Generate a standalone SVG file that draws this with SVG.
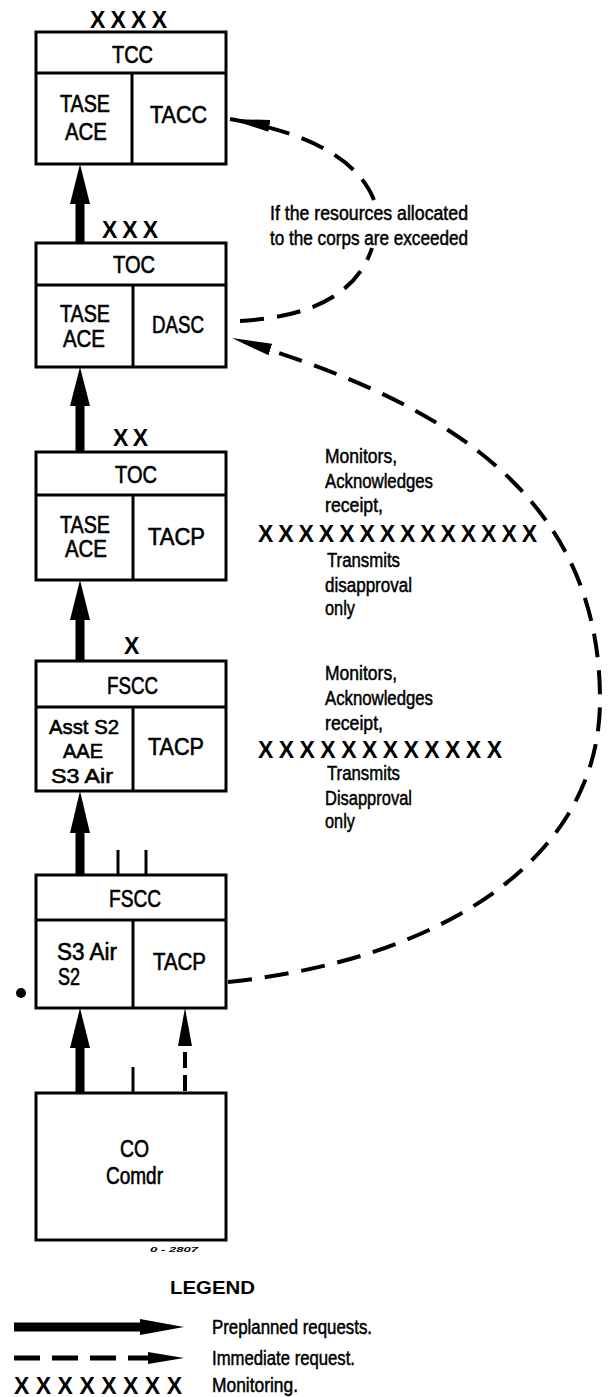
<svg xmlns="http://www.w3.org/2000/svg" width="614" height="1397" viewBox="0 0 614 1397">
<style>
.box{fill:#fff;stroke:#000;stroke-width:3}
.ln{stroke:#000;stroke-width:3;fill:none}
.t{font-family:"Liberation Sans",Arial,sans-serif;font-size:23px;fill:#000;stroke:#000;stroke-width:0.6}
.tc{font-family:"Liberation Sans",Arial,sans-serif;font-size:20px;fill:#000;stroke:#000;stroke-width:0.6}
.s{font-family:"Liberation Sans",Arial,sans-serif;font-size:20px;fill:#000;stroke:#000;stroke-width:0.5}
.x{font-family:"Liberation Sans",Arial,sans-serif;font-size:23px;font-weight:bold;fill:#000}
.solid{stroke:#000;stroke-width:9;fill:none}
.dash{stroke:#000;stroke-width:4;fill:none;stroke-dasharray:24 13}
.head{fill:#000}
</style>
<defs>
<marker id="dh" markerUnits="userSpaceOnUse" markerWidth="44" markerHeight="16" viewBox="0 -8 44 16" refX="40" refY="0" orient="auto">
<path d="M0,-6 L40,0 L0,6 z" fill="#000"/>
</marker>
</defs>
<rect width="614" height="1397" fill="#fff"/>

<g id="connectors">
<line class="solid" x1="80" y1="243" x2="80" y2="198"/>
<path class="head" d="M80,164 L70,204 L90,204 z"/>
<line class="solid" x1="80" y1="452" x2="80" y2="400"/>
<path class="head" d="M80,367 L70,406 L90,406 z"/>
<line class="solid" x1="80" y1="661" x2="80" y2="615"/>
<path class="head" d="M80,580 L70,620 L90,620 z"/>
<line class="solid" x1="80" y1="875" x2="80" y2="828"/>
<path class="head" d="M80,791 L70,833 L90,833 z"/>
<line class="solid" x1="80" y1="1093" x2="80" y2="1043"/>
<path class="head" d="M80,1008 L70,1048 L90,1048 z"/>
<line stroke="#000" stroke-width="4" stroke-dasharray="16 7" x1="185" y1="1091" x2="185" y2="1045"/>
<path class="head" d="M185,1008 L178,1046 L192,1046 z"/>
<line class="ln" x1="118" y1="850" x2="118" y2="875" stroke-width="3.5"/>
<line class="ln" x1="146" y1="850" x2="146" y2="875" stroke-width="3.5"/>
<line class="ln" x1="133" y1="1067" x2="133" y2="1093" stroke-width="3.5"/>
<path class="dash" d="M374,200 Q350,140 230,119" marker-end="url(#dh)"/>
<path class="dash" d="M240,321 Q350,315 372,248"/>
<path class="dash" d="M228,982 C440,960 600,860 600,700 C600,480 420,395 232,338" marker-end="url(#dh)"/>
</g>

<g id="node-tcc">
<text class="x" x="90" y="28" textLength="77" lengthAdjust="spacing">XXXX</text>
<rect class="box" x="36" y="32" width="190" height="132"/>
<line class="ln" x1="36" y1="73" x2="226" y2="73"/>
<line class="ln" x1="132" y1="73" x2="132" y2="164"/>
<text class="t" x="112" y="63" textLength="41" lengthAdjust="spacingAndGlyphs">TCC</text>
<text class="t" x="60" y="112" textLength="50" lengthAdjust="spacingAndGlyphs">TASE</text>
<text class="t" x="65" y="140" textLength="42" lengthAdjust="spacingAndGlyphs">ACE</text>
<text class="t" x="150" y="123" textLength="57" lengthAdjust="spacingAndGlyphs">TACC</text>
</g>

<g id="node-toc-corps">
<text class="x" x="102" y="238" textLength="56" lengthAdjust="spacing">XXX</text>
<rect class="box" x="36" y="243" width="190" height="124"/>
<line class="ln" x1="36" y1="285" x2="226" y2="285"/>
<line class="ln" x1="133" y1="285" x2="133" y2="367"/>
<text class="t" x="113" y="273" textLength="42" lengthAdjust="spacingAndGlyphs">TOC</text>
<text class="t" x="60" y="322" textLength="50" lengthAdjust="spacingAndGlyphs">TASE</text>
<text class="t" x="63" y="347" textLength="42" lengthAdjust="spacingAndGlyphs">ACE</text>
<text class="t" x="152" y="333" textLength="52" lengthAdjust="spacingAndGlyphs">DASC</text>
</g>

<g id="node-toc-div">
<text class="x" x="113" y="446" textLength="35" lengthAdjust="spacing">XX</text>
<rect class="box" x="36" y="452" width="190" height="128"/>
<line class="ln" x1="36" y1="495" x2="226" y2="495"/>
<line class="ln" x1="133" y1="495" x2="133" y2="580"/>
<text class="t" x="115" y="483" textLength="42" lengthAdjust="spacingAndGlyphs">TOC</text>
<text class="t" x="60" y="533" textLength="50" lengthAdjust="spacingAndGlyphs">TASE</text>
<text class="t" x="65" y="557" textLength="42" lengthAdjust="spacingAndGlyphs">ACE</text>
<text class="t" x="148" y="545" textLength="57" lengthAdjust="spacingAndGlyphs">TACP</text>
</g>

<g id="node-fscc-bde">
<text class="x" x="124" y="654">X</text>
<rect class="box" x="36" y="661" width="190" height="130"/>
<line class="ln" x1="36" y1="707" x2="226" y2="707"/>
<line class="ln" x1="133" y1="707" x2="133" y2="791"/>
<text class="t" x="107" y="694" textLength="51" lengthAdjust="spacingAndGlyphs">FSCC</text>
<text class="tc" x="49" y="734" textLength="70" lengthAdjust="spacingAndGlyphs">Asst S2</text>
<text class="tc" x="63" y="758" textLength="40" lengthAdjust="spacingAndGlyphs">AAE</text>
<text class="tc" x="51" y="783" textLength="62" lengthAdjust="spacingAndGlyphs">S3 Air</text>
<text class="t" x="148" y="755" textLength="56" lengthAdjust="spacingAndGlyphs">TACP</text>
</g>

<g id="node-fscc-bn">
<rect class="box" x="36" y="875" width="190" height="133"/>
<line class="ln" x1="36" y1="920" x2="226" y2="920"/>
<line class="ln" x1="133" y1="920" x2="133" y2="1008"/>
<text class="t" x="109" y="907" textLength="52" lengthAdjust="spacingAndGlyphs">FSCC</text>
<text class="t" x="57" y="960" textLength="60" lengthAdjust="spacingAndGlyphs">S3 Air</text>
<text class="t" x="58" y="985" textLength="22" lengthAdjust="spacingAndGlyphs">S2</text>
<text class="t" x="153" y="970" textLength="53" lengthAdjust="spacingAndGlyphs">TACP</text>
</g>

<g id="node-co">
<rect class="box" x="36" y="1093" width="190" height="147"/>
<text class="t" x="120" y="1157" textLength="29" lengthAdjust="spacingAndGlyphs">CO</text>
<text class="t" x="106" y="1184" textLength="57" lengthAdjust="spacingAndGlyphs">Comdr</text>
<text x="150" y="1252" font-family="Liberation Sans, Arial, sans-serif" font-size="8" font-weight="bold" font-style="italic" textLength="48" lengthAdjust="spacingAndGlyphs">0 - 2807</text>
</g>

<g id="notes">
<text class="s" x="270" y="220" textLength="198" lengthAdjust="spacingAndGlyphs">If the resources allocated</text>
<text class="s" x="270" y="245" textLength="198" lengthAdjust="spacingAndGlyphs">to the corps are exceeded</text>

<text class="s" x="325" y="463" textLength="72" lengthAdjust="spacingAndGlyphs">Monitors,</text>
<text class="s" x="325" y="488" textLength="108" lengthAdjust="spacingAndGlyphs">Acknowledges</text>
<text class="s" x="325" y="512" textLength="58" lengthAdjust="spacingAndGlyphs">receipt,</text>
<text class="x" x="258" y="542" textLength="279" lengthAdjust="spacing">XXXXXXXXXXXXXX</text>
<text class="s" x="327" y="567" textLength="73" lengthAdjust="spacingAndGlyphs">Transmits</text>
<text class="s" x="325" y="592" textLength="87" lengthAdjust="spacingAndGlyphs">disapproval</text>
<text class="s" x="325" y="615" textLength="30" lengthAdjust="spacingAndGlyphs">only</text>

<text class="s" x="325" y="680" textLength="72" lengthAdjust="spacingAndGlyphs">Monitors,</text>
<text class="s" x="325" y="705" textLength="108" lengthAdjust="spacingAndGlyphs">Acknowledges</text>
<text class="s" x="325" y="730" textLength="58" lengthAdjust="spacingAndGlyphs">receipt,</text>
<text class="x" x="258" y="758" textLength="244" lengthAdjust="spacing">XXXXXXXXXXXX</text>
<text class="s" x="327" y="780" textLength="73" lengthAdjust="spacingAndGlyphs">Transmits</text>
<text class="s" x="325" y="805" textLength="87" lengthAdjust="spacingAndGlyphs">Disapproval</text>
<text class="s" x="325" y="828" textLength="30" lengthAdjust="spacingAndGlyphs">only</text>
</g>

<circle cx="21" cy="993" r="5" fill="#000"/>

<g id="legend">
<text x="170" y="1294" font-family="Liberation Sans, Arial, sans-serif" font-size="18" font-weight="bold" textLength="85" lengthAdjust="spacingAndGlyphs">LEGEND</text>
<line class="solid" x1="14" y1="1327" x2="150" y2="1327"/>
<path class="head" d="M184,1327 L140,1319 L140,1335 z"/>
<text class="s" x="212" y="1334" textLength="160" lengthAdjust="spacingAndGlyphs">Preplanned requests.</text>
<line stroke="#000" stroke-width="5" stroke-dasharray="26 12" x1="14" y1="1358" x2="152" y2="1358"/>
<path class="head" d="M184,1358 L148,1352 L148,1364 z"/>
<text class="s" x="212" y="1365" textLength="143" lengthAdjust="spacingAndGlyphs">Immediate request.</text>
<text class="x" x="14" y="1394" textLength="168" lengthAdjust="spacing">XXXXXXXX</text>
<text class="s" x="212" y="1392" textLength="86" lengthAdjust="spacingAndGlyphs">Monitoring.</text>
</g>
</svg>
